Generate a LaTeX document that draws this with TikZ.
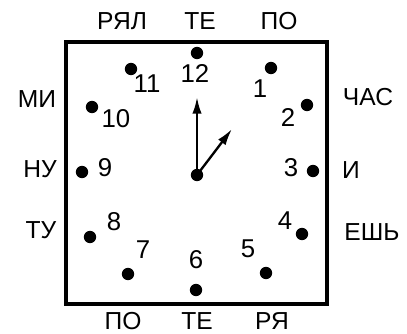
\documentclass[tikz,border=0pt]{standalone}
\usepackage{fontspec}
\setmainfont{Liberation Sans}
\usetikzlibrary{arrows.meta}
\definecolor{inkcol}{HTML}{000000}

\tikzset{
  hourdot/.style={circle, fill=inkcol, inner sep=0pt, minimum size=3.7mm},
  hubdot/.style={circle, fill=inkcol, inner sep=0pt, minimum size=3.7mm},
  hournum/.style={inkcol, font=\fontsize{22}{26}\selectfont, inner sep=0pt},
  syllable/.style={inkcol, font=\fontsize{21}{25}\selectfont, inner sep=0pt},
  hand/.style={inkcol, line width=2pt, -{Latex[length=5mm,width=2.8mm]}},
}

\begin{document}
\begin{tikzpicture}
\useasboundingbox (0,0) rectangle (12.21,10.02);

% --- Clock face ---
\draw[inkcol, line width=2.6pt] (1.98,0.90) rectangle (9.81,8.76);

% Hour dots and numbers
\foreach \h/\dx/\dy/\nx/\ny in {
    12/5.91/8.43/5.85/7.80, 11/3.93/7.95/4.41/7.50, 1/8.13/7.98/7.80/7.35,
    10/2.76/6.81/3.48/6.45, 2/9.21/6.87/8.64/6.48,
    9/2.46/4.86/3.15/4.98, 3/9.39/4.89/8.73/4.98,
    8/2.70/2.91/3.42/3.36, 4/9.06/3.00/8.55/3.39,
    7/3.84/1.80/4.29/2.52, 5/7.98/1.83/7.44/2.55, 6/5.88/1.32/5.88/2.22}
{
  \node[hourdot] (d\h) at (\dx,\dy) {};
  \node[hournum] (n\h) at (\nx,\ny) {\h};
}

% Hands
\node[hubdot] (hub) at (5.91,4.77) {};
\coordinate (mintip) at (5.91,7.11);
\coordinate (hourtip) at (6.96,6.15);
\draw[hand] (hub.center) -- (mintip);
\draw[hand] (hub.center) -- (hourtip);

% --- Syllables round the face ---
\node[syllable] (top1) at (3.66,9.39) {РЯЛ};
\node[syllable] (top2) at (6.00,9.39) {ТЕ};
\node[syllable] (top3) at (8.37,9.39) {ПО};

\node[syllable] (left1) at (1.11,7.05) {МИ};
\node[syllable] (left2) at (1.20,4.95) {НУ};
\node[syllable] (left3) at (1.23,3.12) {ТУ};

\node[syllable] (right1) at (11.04,7.11) {ЧАС};
\node[syllable] (right2) at (10.53,4.92) {И};
\node[syllable] (right3) at (11.16,3.06) {ЕШЬ};

\node[syllable] (bot1) at (3.69,0.38) {ПО};
\node[syllable] (bot2) at (5.91,0.38) {ТЕ};
\node[syllable] (bot3) at (8.16,0.38) {РЯ};
\end{tikzpicture}
\end{document}
